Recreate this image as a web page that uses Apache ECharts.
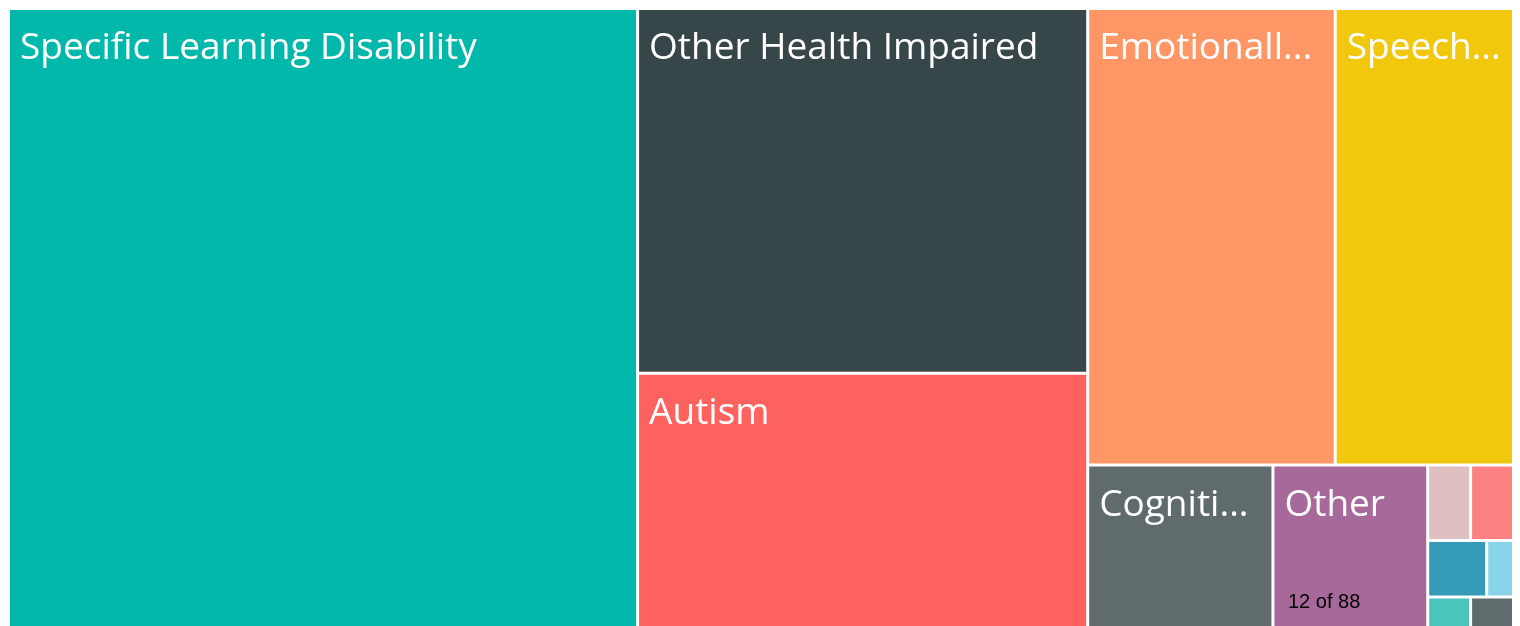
<!DOCTYPE html>
<html>
<head>
<meta charset="utf-8">
<script src="https://cdn.jsdelivr.net/npm/echarts@6/dist/echarts.min.js"></script>
<style>
html,body{margin:0;padding:0;background:#fff;}
#chart{width:1520px;height:626px;}
</style>
</head>
<body>
<div id="chart"></div>
<script>
const categories = [
  'Specific Learning Disability',
  'Other Health Impaired',
  'Autism',
  'Emotionally Impaired',
  'Speech Language Impaired',
  'Cognitive Impairment',
  'Other',
  'Hearing Impairment',
  'Multiple Disabilities',
  'Visual Impairment',
  'Orthopedic Impairment',
  'Traumatic Brain Injury',
  'Deaf-Blindness'
];
const values = [3856, 1626, 1133, 1119, 806, 298, 249, 32, 32, 33, 15, 13, 13];
const colors = ['#01B8AA', '#374649', '#FD625E', '#FE9666', '#F2C80F', '#5F6B6D', '#A66999',
                '#DFBFBF', '#FB8281', '#3599B8', '#8AD4EB', '#4AC5BB', '#5F6B6D'];
const labelled = [true, true, true, true, true, true, true, false, false, false, false, false, false];
const otherNote = '12 of 88';

const data = categories.map((name, i) => ({
  name: name,
  value: values[i],
  itemStyle: { color: colors[i] },
  label: { show: labelled[i] }
}));

const chart = echarts.init(document.getElementById('chart'), null, { renderer: 'canvas' });
chart.setOption({
  animation: false,
  tooltip: { show: true },
  graphic: [{
    type: 'text',
    left: 1288,
    top: 592,
    z: 100,
    zlevel: 1,
    style: { text: otherNote, fill: '#000', font: '20px "Liberation Sans", Arial, sans-serif' }
  }],
  series: [{
    type: 'treemap',
    left: 10,
    top: 10,
    right: 8,
    bottom: 0,
    roam: false,
    nodeClick: false,
    sort: false,
    breadcrumb: { show: false },
    itemStyle: { gapWidth: 3, borderWidth: 0, borderColor: '#fff' },
    label: {
      show: true,
      position: 'insideTopLeft',
      color: '#fff',
      fontSize: 37,
      fontFamily: 'Open Sans',
      fontWeight: 'normal',
      padding: [20, 9, 0, 10],
      overflow: 'truncate',
      ellipsis: '...'
    },
    data: data
  }]
});
</script>
</body>
</html>
